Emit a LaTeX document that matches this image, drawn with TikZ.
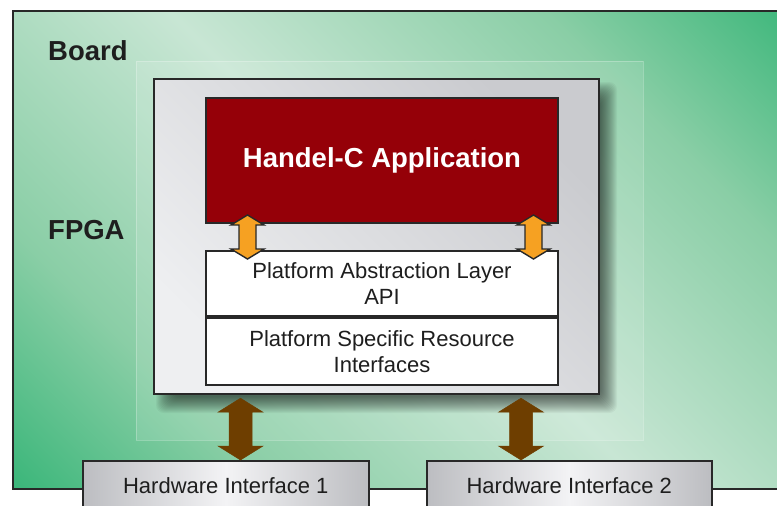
\documentclass[tikz,border=0pt]{standalone}
\usepackage{fontspec}
\setmainfont{Liberation Sans}
\usetikzlibrary{arrows.meta, positioning, calc}
\definecolor{boarddark}{RGB}{61, 183, 123}
\definecolor{boardmid}{RGB}{138, 206, 166}
\definecolor{boardlight}{RGB}{200, 230, 212}
\definecolor{edgegrey}{RGB}{40, 40, 40}
\definecolor{fpgalight}{RGB}{238, 239, 241}
\definecolor{fpgadark}{RGB}{202, 203, 207}
\definecolor{appred}{RGB}{149, 0, 8}
\definecolor{apiorange}{RGB}{246, 161, 34}
\definecolor{hwbrown}{RGB}{110, 62, 0}
\definecolor{hwedge}{RGB}{188, 189, 193}
\definecolor{hwmid}{RGB}{243, 243, 245}
\definecolor{labeltext}{RGB}{30, 30, 30}

% green board: dark in two corners, light band across the middle
\pgfdeclarehorizontalshading{boardgreen}{100bp}{color(0bp)=(boarddark); color(15bp)=(boarddark); color(29bp)=(boardmid); color(50bp)=(boardlight); color(71bp)=(boardmid); color(85bp)=(boarddark); color(100bp)=(boarddark)}

\tikzset{
  boardbox/.style={draw=edgegrey, line width=2pt, shading=boardgreen, shading angle=45, inner sep=0pt},
  fpgabox/.style={draw=edgegrey, line width=2.2pt, top color=fpgalight, bottom color=fpgadark, shading angle=135, inner sep=0pt},
  appbox/.style={draw=edgegrey, line width=2pt, fill=appred, text=white, inner sep=0pt,
    font=\bfseries\fontsize{27.5}{33}\selectfont},
  layerbox/.style={draw=edgegrey, line width=2pt, fill=white, text=labeltext, align=center, inner sep=0pt,
    minimum width=352, font=\fontsize{22}{25.5}\selectfont},
  hwbox/.style={draw=edgegrey, line width=1.6pt, left color=hwedge, right color=hwedge, middle color=hwmid,
    text=labeltext, inner sep=0pt, minimum height=50, font=\fontsize{22}{25.5}\selectfont},
  title/.style={text=labeltext, inner sep=0pt, anchor=west, font=\bfseries\fontsize{27.5}{33}\selectfont},
  % fat two-headed arrow: shaft half width, head half width, head length
  fat/.style n args={3}{to path={let \p1=(\tikztostart), \p2=(\tikztotarget) in
    (\x1,\y1) -- (\x1+#2,\y1-#3) -- (\x1+#1,\y1-#3) -- (\x1+#1,\y2+#3) -- (\x1+#2,\y2+#3) -- (\x1,\y2)
    -- (\x1-#2,\y2+#3) -- (\x1-#1,\y2+#3) -- (\x1-#1,\y1-#3) -- (\x1-#2,\y1-#3) -- cycle}},
  orangeflow/.style={fat={8.5pt}{16.5pt}{10pt}, fill=apiorange, draw=edgegrey, line width=1.4pt, line join=miter},
  brownflow/.style={fat={11.5pt}{22.5pt}{14pt}, fill=hwbrown, draw=hwbrown, line width=0.5pt, line join=miter},
}

\begin{document}
\begin{tikzpicture}[x=1pt, y=-1pt]
\useasboundingbox (0,0) rectangle (777,506);
\clip (0,0) rectangle (777,506);

\node[boardbox, minimum width=790, minimum height=478, anchor=north west] (board) at (12,10) {};
\node[title] (boardlbl) at (48,51) {Board};
\node[title] (fpgalbl) at (48,230) {FPGA};

% faint halo round the chip
\fill[white, opacity=0.12] (136,61) rectangle (643,440);
\draw[white, opacity=0.25, line width=0.5pt] (136,61) rectangle (643,440);
% soft drop shadow, stacked layers
\foreach \e in {-8,...,8}
  \fill[black, opacity=0.04, rounded corners=8pt] (164-\e,90-\e) rectangle (609+\e,405+\e);

\node[fpgabox, minimum width=445, minimum height=315, anchor=north west] (fpga) at (153,78) {};
\node[appbox, minimum width=352, minimum height=125, anchor=north west] (app) at (205,97) {Handel-C Application};
\node[layerbox, minimum height=65, below=26pt of app] (pal) {Platform Abstraction Layer\\API};
\node[layerbox, minimum height=67, below=0pt of pal] (psri) {Platform Specific Resource\\Interfaces};

\node[hwbox, minimum width=286, anchor=north west] (hw1) at (82,460) {Hardware Interface 1};
\node[hwbox, minimum width=285, anchor=north west] (hw2) at (426,460) {Hardware Interface 2};

% API arrows
\draw[orangeflow] ($(app.south west)+(42.5,-9)$) to ($(pal.north west)+(42.5,9)$);
\draw[orangeflow] ($(app.south east)+(-25.5,-9)$) to ($(pal.north east)+(-25.5,9)$);

% pins out to the board
\draw[brownflow] ($(fpga.south west)+(87.5,3)$) to ($(hw1.north west)+(158.5,0)$);
\draw[brownflow] ($(fpga.south west)+(368,3)$) to ($(hw2.north west)+(95,0)$);

\end{tikzpicture}
\end{document}
